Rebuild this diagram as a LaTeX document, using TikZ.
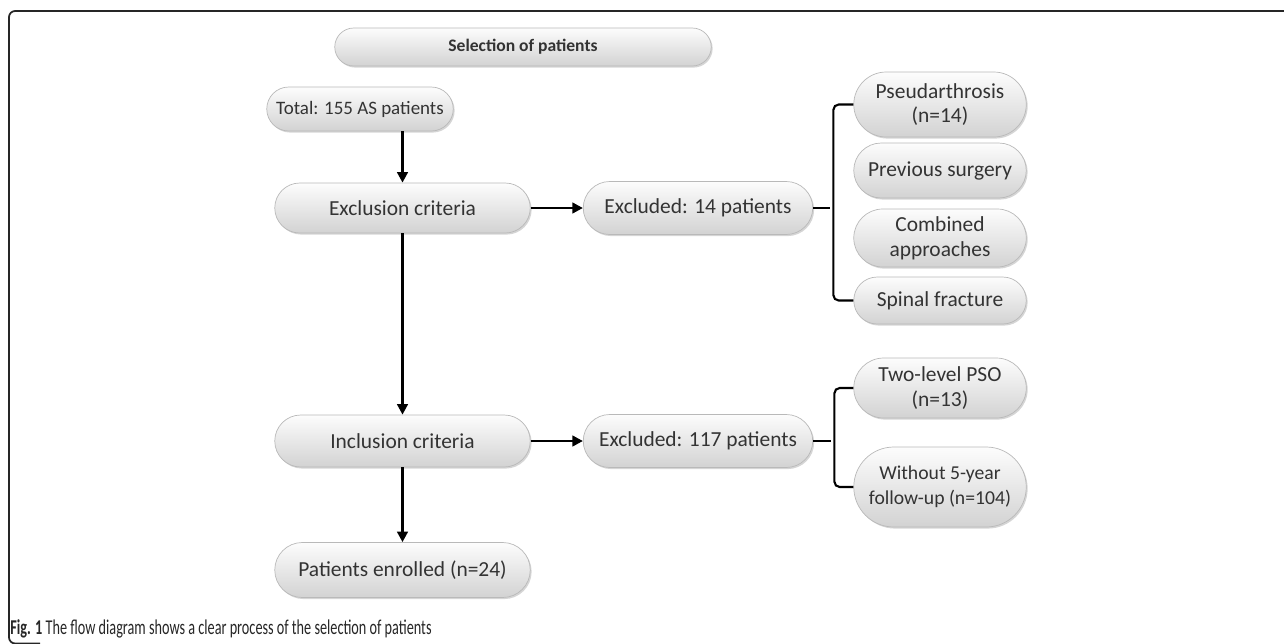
\documentclass[tikz,border=0pt]{standalone}
\usepackage{fontspec}
\setmainfont{Carlito}
\newfontfamily\capfont[FakeStretch=0.675]{Carlito}
\usetikzlibrary{arrows.meta,shapes.misc,shadows}

\begin{document}
\begin{tikzpicture}[x=0.02cm, y=-0.02cm, >={Triangle[length=6pt,width=6pt]},
    pill/.style={rounded rectangle, draw=gray!55, thin, top color=gray!2, bottom color=gray!35,
        drop shadow={shadow xshift=0.8pt, shadow yshift=-0.9pt, fill=gray!65},
        text=black!80, font=\fontsize{12.2}{14}\selectfont, align=center, inner sep=1pt},
    link/.style={line width=1.6pt, black}]
        \def\px{0.02cm} \def\colX{402.5} \def\midX{698} \def\sideX{940} \def\sideW{176}

        \useasboundingbox (0,0) rectangle (1284,643);
        \begin{scope}
            \clip (0,0) rectangle (1284,643);
            \draw[line width=1pt, black!85, rounded corners=3.5pt] (1300,11) -- (9,11) -- (9,643.5) -- (40,643.5);
        \end{scope}

        \node[pill, minimum width=380*\px, minimum height=38*\px, font=\fontsize{10}{12}\selectfont\bfseries] (title) at (523,47) {Selection of patients};

        \node[pill, minimum width=190*\px, minimum height=44*\px, font=\fontsize{10.8}{12}\selectfont] (total) at (360,109) {Total: 155 AS patients};
        \node[pill, minimum width=259*\px, minimum height=50*\px] (excl) at (\colX,208) {Exclusion criteria};
        \node[pill, minimum width=259*\px, minimum height=52*\px] (incl) at (\colX,441) {Inclusion criteria};
        \node[pill, minimum width=259*\px, minimum height=55*\px] (enrol) at (\colX,570) {Patients enrolled (n=24)};

        \node[pill, minimum width=233*\px, minimum height=53*\px] (ex14) at (\midX,208) {Excluded: 14 patients};
        \node[pill, minimum width=233*\px, minimum height=53*\px] (ex117) at (\midX,441) {Excluded: 117 patients};

        \node[pill, minimum width=\sideW*\px, minimum height=65*\px] (pseudo) at (\sideX,104.5) {Pseudarthrosis\\(n=14)};
        \node[pill, minimum width=\sideW*\px, minimum height=55*\px] (prev) at (\sideX,170.5) {Previous surgery};
        \node[pill, minimum width=\sideW*\px, minimum height=58*\px] (comb) at (\sideX,238) {Combined\\approaches};
        \node[pill, minimum width=\sideW*\px, minimum height=47*\px] (spinal) at (\sideX,300.5) {Spinal fracture};
        \node[pill, minimum width=\sideW*\px, minimum height=60*\px] (twolvl) at (\sideX,388) {Two-level PSO\\(n=13)};
        \node[pill, minimum width=\sideW*\px, minimum height=80*\px, font=\fontsize{11.2}{14}\selectfont] (nofollow) at (\sideX,487) {Without 5-year\\follow-up (n=104)};

        \draw[link, ->] (total.south -| excl.north) -- (excl.north);
        \draw[link, ->] (excl.south) -- (incl.north);
        \draw[link, ->] (incl.south) -- (enrol.north);
        \draw[link, ->] (excl.east) -- (ex14.west);
        \draw[link, ->] (incl.east) -- (ex117.west);

        \draw[link, line width=1.2pt, rounded corners=3pt] (pseudo.west) -- ++(-20,0) |- (spinal.west);
        \draw[link, line width=1.2pt] (ex14.east) -- ++(17,0);
        \draw[link, line width=1.2pt, rounded corners=3pt] (twolvl.west) -- ++(-19,0) |- (nofollow.west);
        \draw[link, line width=1.2pt] (ex117.east) -- ++(18,0);

        \node[anchor=base west, inner sep=0, text=black!85, font=\capfont\fontsize{12}{14}\selectfont] (caption) at (10,634) {\textbf{Fig. 1} The flow diagram shows a clear process of the selection of patients};
    \end{tikzpicture}
\end{document}
